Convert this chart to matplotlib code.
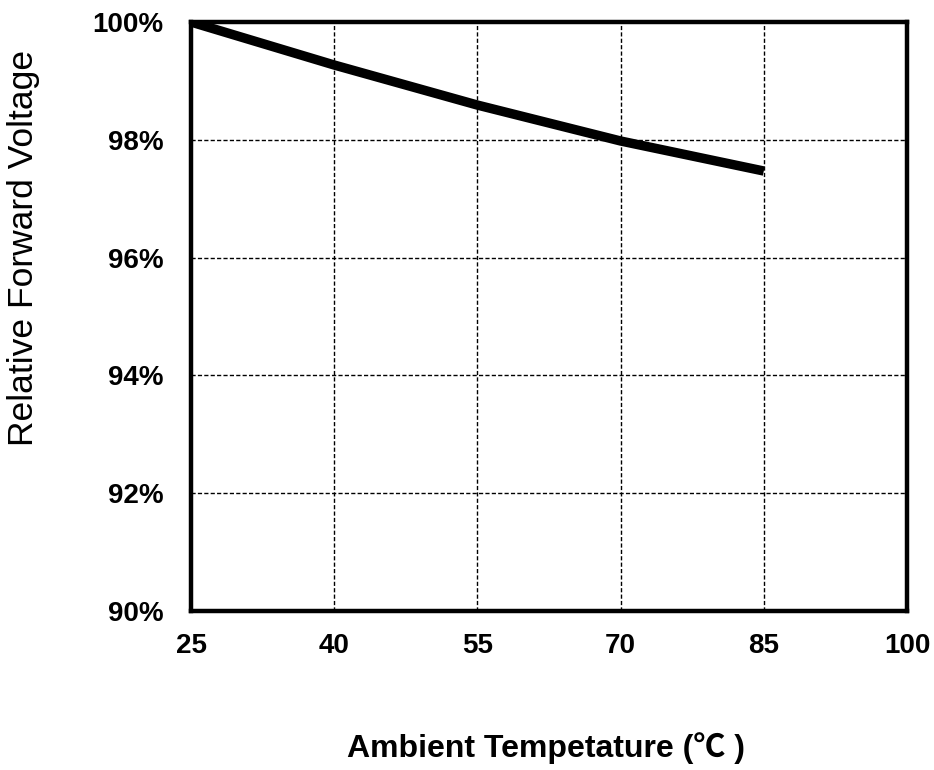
import matplotlib
matplotlib.use("Agg")
import matplotlib.pyplot as plt
from matplotlib.ticker import FuncFormatter

# Relative forward voltage vs. ambient temperature
temperature_c = [25, 40, 55, 70, 85]
relative_vf_pct = [100.0, 99.27, 98.59, 97.98, 97.47]

x_ticks = [25, 40, 55, 70, 85, 100]
y_ticks = [90, 92, 94, 96, 98, 100]

plt.rcParams["font.family"] = ["Liberation Sans", "Noto Sans CJK SC", "DejaVu Sans"]

W, H = 934, 770
fig = plt.figure(figsize=(W / 100, H / 100), dpi=100)
ax = fig.add_axes([0.2045, 0.2065, 0.9711 - 0.2045, 0.9714 - 0.2065])

ax.plot(temperature_c, relative_vf_pct, color="black", linewidth=6.8,
        solid_capstyle="butt", zorder=3)

ax.set_xlim(25, 100)
ax.set_ylim(90, 100)
ax.set_xticks(x_ticks)
ax.set_yticks(y_ticks)
ax.yaxis.set_major_formatter(FuncFormatter(lambda v, p: f"{v:.0f}%"))

ax.grid(True, color="black", linestyle=(0, (3, 1.6)), linewidth=1.0)
ax.set_axisbelow(True)

for s in ax.spines.values():
    s.set_linewidth(3.2)
    s.set_color("black")

ax.tick_params(axis="both", length=0, labelsize=20)
ax.tick_params(axis="x", pad=16)
ax.tick_params(axis="y", pad=20)
for lab in ax.get_xticklabels() + ax.get_yticklabels():
    lab.set_fontweight("bold")

# Axis titles placed in figure pixels
fig.text(546 / W, 1 - 748 / H, "Ambient Tempetature (℃ )", fontsize=23,
         fontweight="bold", ha="center", va="center")
fig.text(24 / W, 1 - 248 / H, "Relative Forward Voltage", fontsize=25.5,
         rotation=90, ha="center", va="center")

fig.savefig("out.png", dpi=100)
